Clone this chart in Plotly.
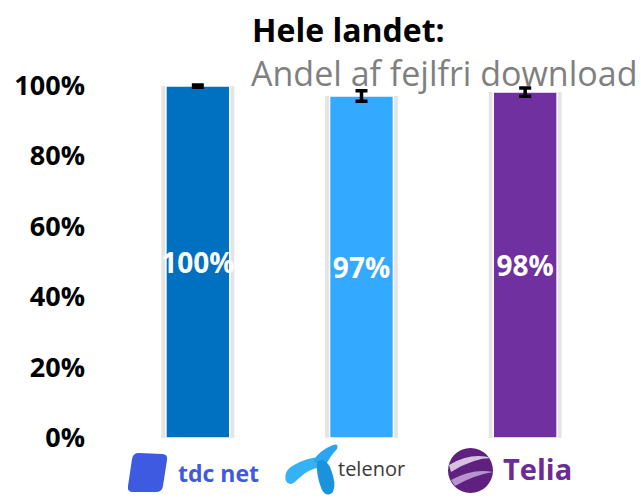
import plotly.graph_objects as go

# ---- data ----
operators = ["tdc net", "telenor", "Telia"]
share_ok = [99.7, 96.9, 98.0]          # % fejlfri download
share_err = [0.3, 1.5, 1.2]            # error bar half-width (%)
bar_labels = ["100%", "97%", "98%"]
bar_colors = ["#0070C0", "#33A9FF", "#7030A0"]
y_ticks = [0, 20, 40, 60, 80, 100]
y_tick_labels = ["0%", "20%", "40%", "60%", "80%", "100%"]

W, H = 641, 503
L, R, T, B = 116, 34, 78, 65
PW, PH = W - L - R, H - T - B


def P(px, py):
    """page pixel -> paper coordinates (for decorative logo shapes)"""
    return (px - L) / PW, (H - B - py) / PH


def path(cmds):
    out = []
    for c in cmds:
        if isinstance(c, str):
            out.append(c)
        else:
            x, y = P(*c)
            out.append(f"{x:.5f},{y:.5f}")
    return " ".join(out)


x = list(range(len(operators)))

fig = go.Figure()
fig.add_trace(go.Bar(
    x=x, y=share_ok, width=0.445,
    marker=dict(color="#e4e4e4", line=dict(width=0)),
    hoverinfo="skip", showlegend=False,
))
fig.add_trace(go.Bar(
    x=x, y=share_ok, width=0.39,
    marker=dict(color=bar_colors, line=dict(color="white", width=1.5)),
    text=bar_labels, textposition="inside", insidetextanchor="middle",
    constraintext="none", textangle=0,
    textfont=dict(family="Open Sans", size=28, color="white", weight="bold"),
    error_y=dict(type="data", array=share_err, visible=True,
                 color="black", thickness=3.5, width=6),
    cliponaxis=False, showlegend=False,
))

fig.update_layout(
    width=W, height=H,
    margin=dict(l=L, r=R, t=T, b=B),
    barmode="overlay",
    plot_bgcolor="white", paper_bgcolor="white",
    xaxis=dict(range=[-0.5, 2.5], showticklabels=False, showgrid=False,
               zeroline=False, showline=False, ticks=""),
    yaxis=dict(range=[0, 102], tickvals=y_ticks, ticktext=y_tick_labels,
               showgrid=False, zeroline=False, showline=False, ticks="",
               ticklabelstandoff=30,
               tickfont=dict(family="Open Sans", size=27, color="black",
                             weight="bold")),
    font=dict(family="Open Sans"),
)

ann = []
tx, ty = P(250, 29)
ann.append(dict(x=tx, y=ty, xref="paper", yref="paper", xanchor="left",
                yanchor="middle", showarrow=False,
                text="<b>Hele landet:</b>",
                font=dict(family="Open Sans", size=32, color="black")))
sx, sy = P(249, 73)
ann.append(dict(x=sx, y=sy, xref="paper", yref="paper", xanchor="left",
                yanchor="middle", showarrow=False,
                text="Andel af fejlfri download",
                font=dict(family="Open Sans", size=34, color="#7f7f7f")))

ax_, ay_ = P(176, 473)
ann.append(dict(x=ax_, y=ay_, xref="paper", yref="paper", xanchor="left",
                yanchor="middle", showarrow=False, text="<b>tdc net</b>",
                font=dict(family="Open Sans", size=23, color="#3D5AE0")))
ax_, ay_ = P(336, 469)
ann.append(dict(x=ax_, y=ay_, xref="paper", yref="paper", xanchor="left",
                yanchor="middle", showarrow=False, text="telenor",
                font=dict(family="Open Sans", size=20, color="#3a3a3a")))
ax_, ay_ = P(501, 469)
ann.append(dict(x=ax_, y=ay_, xref="paper", yref="paper", xanchor="left",
                yanchor="middle", showarrow=False, text="<b>Telia</b>",
                font=dict(family="Open Sans", size=29, color="#6B2D91")))
fig.update_layout(annotations=ann)

shapes = []
# tdc net icon
shapes.append(dict(type="path", xref="paper", yref="paper", line=dict(width=0),
                   fillcolor="#3D5AE0",
                   path=path(["M", (139, 453), "L", (162, 454), "Q", (168, 454), (167, 460),
                              "L", (163, 486), "Q", (162, 492), (156, 492),
                              "L", (133, 492), "Q", (127, 492), (128, 486),
                              "L", (132, 459), "Q", (133, 453), (139, 453), "Z"])))
# telenor propeller: left blade, top arm, drop
shapes.append(dict(type="path", xref="paper", yref="paper", line=dict(width=0),
                   fillcolor="#35B2F6",
                   path=path(["M", (286, 481), "Q", (283, 471), (294, 465),
                              "Q", (306, 458), (319, 457), "L", (321, 467),
                              "Q", (308, 469), (298, 479), "Q", (290, 488), (286, 481), "Z"])))
shapes.append(dict(type="path", xref="paper", yref="paper", line=dict(width=0),
                   fillcolor="#2AA6F0",
                   path=path(["M", (313, 461), "Q", (320, 450), (333, 445),
                              "Q", (339, 443), (337, 449), "Q", (330, 456), (325, 467), "Z"])))
shapes.append(dict(type="path", xref="paper", yref="paper", line=dict(width=0),
                   fillcolor="#1A93DC",
                   path=path(["M", (317, 462), "Q", (324, 456), (330, 467),
                              "Q", (337, 484), (333, 492), "Q", (327, 498), (322, 490),
                              "Q", (316, 476), (317, 462), "Z"])))
# Telia sphere
cx0, cy0 = P(448, 448)
cx1, cy1 = P(493, 493)
shapes.append(dict(type="circle", xref="paper", yref="paper", x0=cx0, y0=cy1,
                   x1=cx1, y1=cy0, line=dict(width=0), fillcolor="#5E2180"))
shapes.append(dict(type="path", xref="paper", yref="paper", line=dict(width=0),
                   fillcolor="#D7C0E2",
                   path=path(["M", (449, 465), "Q", (471, 452), (492, 458),
                              "Q", (473, 458), (451, 472), "Z"])))
shapes.append(dict(type="path", xref="paper", yref="paper", line=dict(width=0),
                   fillcolor="#B894CC",
                   path=path(["M", (451, 480), "Q", (473, 468), (493, 472),
                              "Q", (474, 475), (455, 486), "Z"])))
fig.update_layout(shapes=shapes)

fig.write_html("out.html",
               config={"displayModeBar": False},
               post_script="document.body.style.margin='0';document.body.style.padding='0';")
